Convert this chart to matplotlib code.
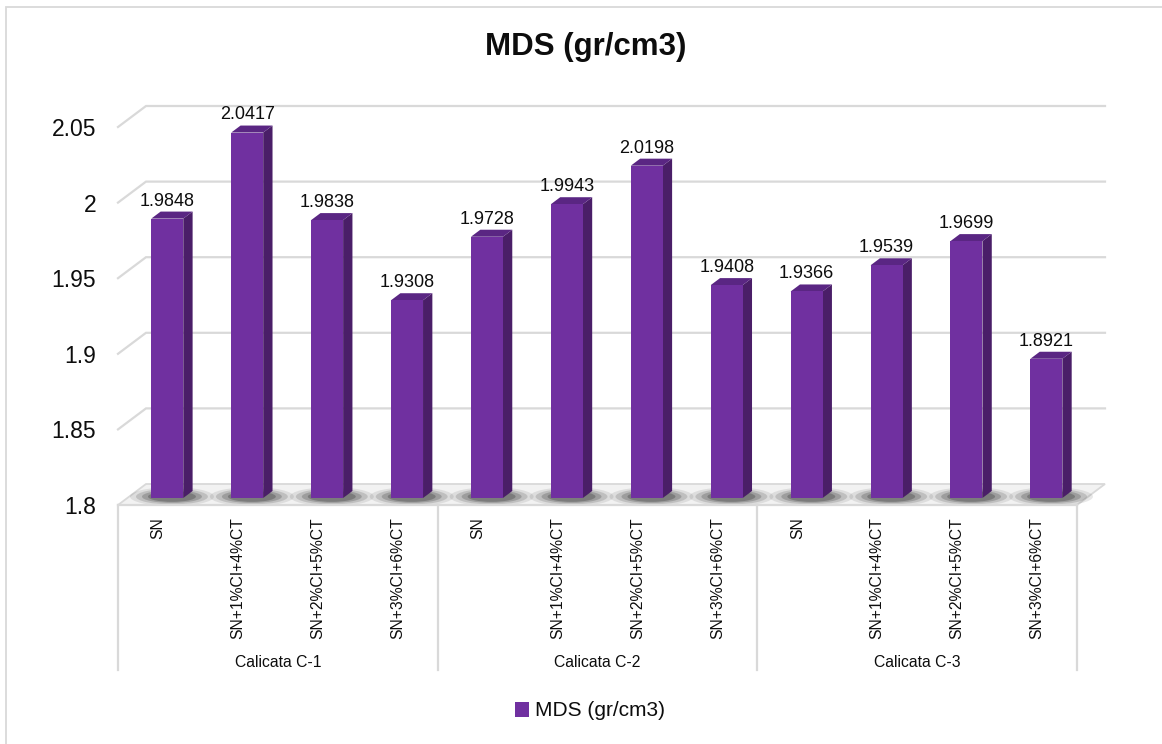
import matplotlib
matplotlib.use("Agg")
import matplotlib.pyplot as plt
from matplotlib.patches import Polygon, Ellipse, Rectangle

plt.rcParams['font.family'] = ['Liberation Sans', 'DejaVu Sans']

# ---------------- data ----------------
groups = ["Calicata C-1", "Calicata C-2", "Calicata C-3"]
treatments = ["SN", "SN+1%CI+4%CT", "SN+2%CI+5%CT", "SN+3%CI+6%CT"]
values = [1.9848, 2.0417, 1.9838, 1.9308,
          1.9728, 1.9943, 2.0198, 1.9408,
          1.9366, 1.9539, 1.9699, 1.8921]
series_name = "MDS (gr/cm3)"
y_ticks = [1.8, 1.85, 1.9, 1.95, 2.0, 2.05]
y_tick_labels = ["1.8", "1.85", "1.9", "1.95", "2", "2.05"]

# ---------------- style ----------------
W, H = 1162, 744
FRONT = "#7030A0"
SIDE = "#4A1E68"
TOP = "#5A2683"
GRID = "#D9D9D9"
TXT = "#0D0D0D"

fig = plt.figure(figsize=(W / 100, H / 100), dpi=100)
fig.patch.set_facecolor("white")

# outer chart border (only top and left edges are visible in the picture)
fig.patches.append(Rectangle((6 / W, -0.2), 1.2, 1.2 - 7 / H, transform=fig.transFigure,
                             fill=False, edgecolor=GRID, linewidth=1.3))

ax_l, ax_r, ax_top, ax_bot = 118, 1077, 127, 505
ax = fig.add_axes([ax_l / W, 1 - ax_bot / H, (ax_r - ax_l) / W, (ax_bot - ax_top) / H])
ymin, ymax = y_ticks[0], y_ticks[-1]
n = len(values)
ax.set_xlim(0, n)
ax.set_ylim(ymin, ymax)
ax.set_facecolor("none")
for s in ax.spines.values():
    s.set_visible(False)
ax.set_xticks([])
ax.set_yticks(y_ticks)
ax.set_yticklabels(y_tick_labels, fontsize=16.5, color=TXT)
ax.tick_params(axis="y", length=0, pad=15.8)

# depth offsets (data units) for a depth of ~28 px right, ~21 px up
px_per_x = (ax_r - ax_l) / n
px_per_y = (ax_bot - ax_top) / (ymax - ymin)
DX = 28 / px_per_x
DY = 21 / px_per_y

# floor
ax.add_patch(Polygon([(0, ymin), (n, ymin), (n + DX, ymin + DY), (DX, ymin + DY)],
                     closed=True, facecolor="#F2F2F2", edgecolor=GRID, lw=1.3,
                     clip_on=False, zorder=1))

# back wall gridlines + side wall slants
for v in y_ticks[1:]:
    ax.plot([0, DX, n + DX], [v, v + DY, v + DY], color=GRID, lw=1.6,
            clip_on=False, zorder=1, solid_joinstyle="miter")

# shadows on floor
for i, v in enumerate(values):
    xc = i + 0.5 + DX / 2
    for w, h, a in [(1.05, 0.9, 0.10), (0.9, 0.75, 0.16), (0.75, 0.6, 0.22), (0.6, 0.5, 0.28)]:
        ax.add_patch(Ellipse((xc, ymin + DY * 0.4), w, DY * h, facecolor="#262626",
                             edgecolor="none", alpha=a, clip_on=False, zorder=2))

# bars (front faces)
bw = 0.4
xcs = [i + 0.5 + DX / 3 for i in range(n)]
heights = [v - ymin for v in values]
bars = ax.bar(xcs, heights, bottom=ymin + DY / 3, width=bw, color=FRONT,
              label=series_name, zorder=4, clip_on=False)
for xc, v in zip(xcs, values):
    x0, x1 = xc - bw / 2, xc + bw / 2
    yb, yt = ymin + DY / 3, v + DY / 3
    ax.add_patch(Polygon([(x1, yb), (x1, yt), (x1 + DX / 3, yt + DY / 3), (x1 + DX / 3, yb + DY / 3)],
                         closed=True, facecolor=SIDE, edgecolor="none", zorder=3, clip_on=False))
    ax.add_patch(Polygon([(x0, yt), (x1, yt), (x1 + DX / 3, yt + DY / 3), (x0 + DX / 3, yt + DY / 3)],
                         closed=True, facecolor=TOP, edgecolor="none", zorder=3, clip_on=False))
    ax.annotate(f"{v:.4f}", (xc, yt), xytext=(0, 9.4), textcoords="offset points",
                ha="center", va="baseline", fontsize=13, color=TXT, zorder=6,
                annotation_clip=False)

# category box
box_bottom = ymin - (670 - ax_bot) / px_per_y
ax.plot([0, n], [ymin, ymin], color=GRID, lw=1.6, clip_on=False, zorder=2)
ng = len(treatments)
for k in range(len(groups) + 1):
    ax.plot([k * ng, k * ng], [ymin, box_bottom], color=GRID, lw=1.6, clip_on=False, zorder=2)

lab_top = ymin - 12 / px_per_y
for g, gname in enumerate(groups):
    for j, t in enumerate(treatments):
        ax.text(g * ng + j + 0.5, lab_top, t, rotation=90, ha="center", va="top",
                fontsize=11.3, color=TXT, clip_on=False)
    ax.text(g * ng + ng / 2, ymin - 157 / px_per_y, gname, ha="center", va="center",
            fontsize=11.3, color=TXT, clip_on=False)

# title
fig.text(586 / W, 1 - 47 / H, series_name, ha="center", va="center",
         fontsize=22.5, fontweight="bold", color=TXT)

# legend
fig.legend(handles=[bars], labels=[series_name], loc="center",
           bbox_to_anchor=(590 / W, 1 - 711 / H), frameon=False, fontsize=15,
           handlelength=0.7, handleheight=0.7, handletextpad=0.3, labelcolor=TXT)

fig.savefig("out.png", dpi=100, facecolor="white")
